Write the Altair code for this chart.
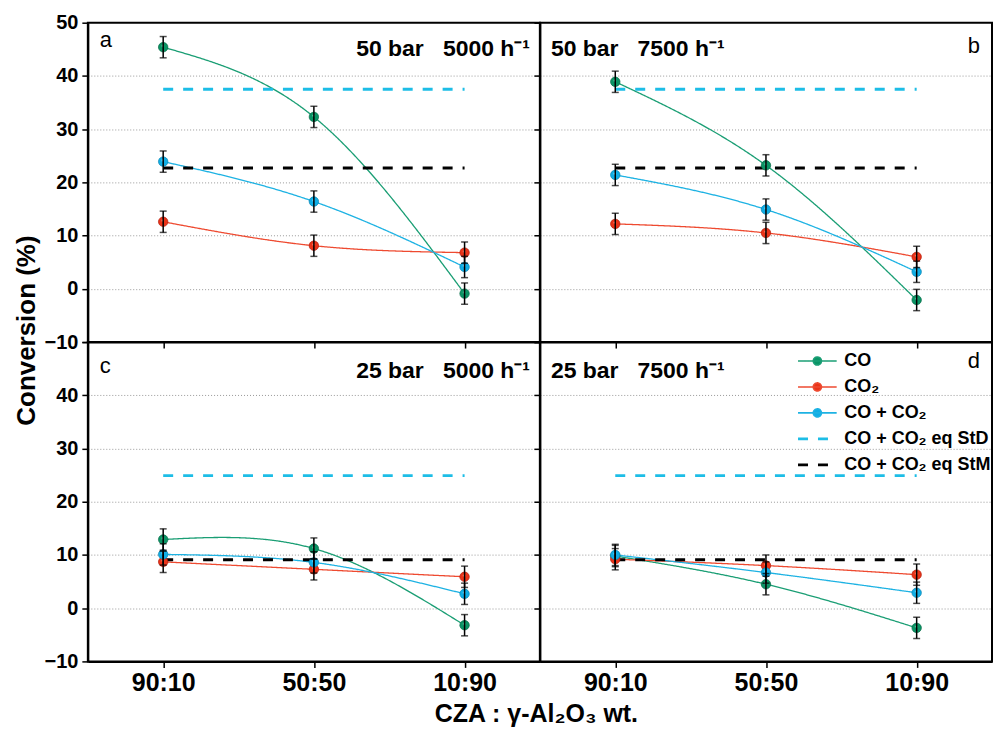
import altair as alt
import pandas as pd

# ---------------- data ----------------
ratios = ["90:10", "50:50", "10:90"]
panels = ["a", "b", "c", "d"]
NB = "\u00a0"
SUP = "h\u207b\u00b9"
conditions = ["50 bar" + NB * 3 + "5000 " + SUP, "50 bar" + NB * 3 + "7500 " + SUP,
              "25 bar" + NB * 3 + "5000 " + SUP, "25 bar" + NB * 3 + "7500 " + SUP]

S_CO = "CO"
S_CO2 = "CO\u2082"
S_SUM = "CO + CO\u2082"
S_STD = "CO + CO\u2082 eq StD"
S_STM = "CO + CO\u2082 eq StM"
series_order = [S_CO, S_CO2, S_SUM, S_STD, S_STM]
solid_series = [S_CO, S_CO2, S_SUM]
dashed_series = [S_STD, S_STM]

co_a = [45.4, 32.3, -0.9]
co_b = [38.9, 23.2, -2.1]
co_c = [12.9, 11.2, -3.2]
co_d = [9.8, 4.5, -3.7]

co2_a = [12.6, 8.1, 6.8]
co2_b = [12.2, 10.5, 6.0]
co2_c = [8.7, 7.3, 5.9]
co2_d = [9.2, 8.0, 6.3]

sum_a = [23.9, 16.4, 4.1]
sum_b = [21.4, 14.9, 3.2]
sum_c = [10.1, 8.6, 2.7]
sum_d = [10.0, 6.7, 2.9]

err_co = [2.0, 2.0, 2.0]
err_co2 = [2.0, 2.0, 2.0]
err_sum = [2.0, 2.0, 2.0]

eq_std = [37.5, 37.5, 24.9, 24.9]
eq_stm = [22.7, 22.7, 9.1, 9.1]

co_vals = {"a": co_a, "b": co_b, "c": co_c, "d": co_d}
co2_vals = {"a": co2_a, "b": co2_b, "c": co2_c, "d": co2_d}
sum_vals = {"a": sum_a, "b": sum_b, "c": sum_c, "d": sum_d}

rows = []
for i, p in enumerate(panels):
    for s, vals, errs in [(S_CO, co_vals[p], err_co), (S_CO2, co2_vals[p], err_co2),
                          (S_SUM, sum_vals[p], err_sum)]:
        for r, v, e in zip(ratios, vals, errs):
            rows.append({"panel": p, "series": s, "ratio": r, "value": v, "err": e})
    for r in ratios:
        rows.append({"panel": p, "series": S_STD, "ratio": r, "value": eq_std[i], "err": 0.0})
        rows.append({"panel": p, "series": S_STM, "ratio": r, "value": eq_stm[i], "err": 0.0})
df = pd.DataFrame(rows)

# ---------------- styles ----------------
FONT = "Liberation Sans"
line_colors = ["#1a9e74", "#ee4a30", "#1db2e3", "#1dbde6", "#000000"]
dashes = [[1, 0], [1, 0], [1, 0], [10, 10], [10, 10]]
dot_styles = {
    S_CO: ("#0a9465", "#8fe0bf", "#066a47"),
    S_CO2: ("#ea3318", "#ffb3a3", "#b31d0b"),
    S_SUM: ("#0faee6", "#b8eefe", "#0883b0"),
}
W, H = 453, 320
PW = W


def grad(base, light):
    return alt.RadialGradient(
        gradient="radial",
        stops=[alt.GradientStop(offset=0, color=light),
               alt.GradientStop(offset=0.3, color=base),
               alt.GradientStop(offset=1, color=base)],
        x1=0.42, y1=0.32, r1=0, x2=0.5, y2=0.5, r2=0.55,
    )


legend_circle = "M-1,0H1M0.21,0A0.21,0.21,0,1,1,-0.21,0A0.21,0.21,0,1,1,0.21,0Z"
fill_expr = ("datum.value === '%s' ? '%s' : datum.value === '%s' ? '%s' : "
             "datum.value === '%s' ? '%s' : 'transparent'"
             % (S_CO, dot_styles[S_CO][0], S_CO2, dot_styles[S_CO2][0], S_SUM, dot_styles[S_SUM][0]))
shape_expr = ("indexof(['%s','%s','%s'], datum.value) >= 0 ? '%s' : 'stroke'"
              % (S_CO, S_CO2, S_SUM, legend_circle))
swidth_expr = ("indexof(['%s','%s','%s'], datum.value) >= 0 ? 1.6 : 2.8"
               % (S_CO, S_CO2, S_SUM))


def make_legend():
    return alt.Legend(
        title=None, orient="none", legendX=269, legendY=10, padding=0,
        symbolType={"expr": shape_expr}, symbolFillColor={"expr": fill_expr},
        symbolSize=1500, symbolStrokeWidth={"expr": swidth_expr},
        labelFont=FONT, labelFontSize=18, labelFontWeight="bold", labelColor="black",
        labelOffset=18, labelLimit=300, rowPadding=8,
    )


def y_axis(show_labels, hide_top=False, title=None):
    lab = ("datum.value % 10 === 0 && datum.value < 50 ? datum.label : ''" if hide_top
           else "datum.value % 10 === 0 ? datum.label : ''")
    kw = dict(
        values=list(range(-10, 55, 5)),
        labels=show_labels,
        labelExpr=lab,
        labelFont=FONT, labelFontSize=20, labelFontWeight="bold", labelColor="black",
        labelPadding=4,
        ticks=True,
        tickSize={"condition": {"test": "datum.value % 10 === 0", "value": 6}, "value": 3},
        tickWidth=1.5, tickColor="black",
        grid=True, gridDash=[1, 2], gridColor="#999999", gridWidth=1,
        gridOpacity={"condition": {"test": "datum.value % 10 === 0 && datum.value > -10 && datum.value < 50",
                                   "value": 1}, "value": 0},
        domain=True, domainColor="black", domainWidth=2,
    )
    if title:
        kw.update(title=title, titleFont=FONT, titleFontSize=26, titleFontWeight="bold",
                  titleColor="black", titleAngle=270, titleBaseline="alphabetic",
                  titleX=-53, titleY=308, titleAlign="center")
    else:
        kw.update(title=None)
    return alt.Axis(**kw)


def x_axis(show_labels, title=None):
    kw = dict(
        labels=show_labels, labelAngle=0, labelAlign="center",
        labelFont=FONT, labelFontSize=25, labelFontWeight="bold", labelColor="black",
        labelPadding=3,
        ticks=True, tickSize=6, tickWidth=1.5, tickColor="black",
        grid=False, domain=True, domainColor="black", domainWidth=2,
    )
    if title:
        kw.update(title=title, titleFont=FONT, titleFontSize=25, titleFontWeight="bold",
                  titleColor="black", titleBaseline="alphabetic", titleX=W - 4, titleY=60,
                  titleAlign="center")
    else:
        kw.update(title=None)
    return alt.Axis(**kw)


ann_pos = {
    "a": ((12, 24, "left"), (PW - 10, 33, "right")),
    "b": ((PW - 12, 30, "right"), (11, 33, "left")),
    "c": ((12, 31, "left"), (PW - 10, 36, "right")),
    "d": ((PW - 12, 26, "right"), (11, 36, "left")),
}


def make_panel(p, idx, show_x, show_y, hide_top=False, ytitle=None, xtitle=None, legend=False):
    d = df[df.panel == p]
    xenc = alt.X("ratio:N", sort=ratios,
                 scale=alt.Scale(type="point", padding=0.5, domain=ratios),
                 axis=x_axis(show_x, xtitle))
    yenc = alt.Y("value:Q", scale=alt.Scale(domain=[-10, 50], nice=False, zero=False),
                 axis=y_axis(show_y, hide_top, ytitle))
    leg = make_legend() if legend else None
    cenc = alt.Color("series:N", scale=alt.Scale(domain=series_order, range=line_colors),
                     legend=leg)
    denc = alt.StrokeDash("series:N", scale=alt.Scale(domain=series_order, range=dashes),
                          legend=leg)

    solid = alt.Chart(d[d.series.isin(solid_series)]).mark_line(
        interpolate="natural", strokeWidth=1.3).encode(
        x=xenc, y=yenc, color=cenc, strokeDash=denc, detail="series:N")
    dashed = alt.Chart(d[d.series.isin(dashed_series)]).mark_line(
        strokeWidth=2.8).encode(
        x=alt.X("ratio:N", sort=ratios), y="value:Q",
        color=alt.Color("series:N"),
        strokeDash=alt.StrokeDash("series:N"), detail="series:N")
    layers = [solid, dashed]
    for s in solid_series:
        base, light, rim = dot_styles[s]
        pts = alt.Chart(d[d.series == s]).mark_circle(
            fill=grad(base, light), stroke=rim, strokeWidth=0.7, size=90, opacity=1
        ).encode(x=alt.X("ratio:N", sort=ratios), y="value:Q")
        layers.append(pts)
    dd = d[d.series.isin(solid_series)]
    eb = alt.Chart(dd).transform_calculate(
        lo="datum.value - datum.err", hi="datum.value + datum.err")
    layers.append(eb.mark_rule(color="black", strokeWidth=1.5).encode(
        x=alt.X("ratio:N", sort=ratios), y="lo:Q", y2="hi:Q"))
    layers.append(eb.mark_tick(color="black", size=7, thickness=1.5).encode(
        x=alt.X("ratio:N", sort=ratios), y="lo:Q"))
    layers.append(eb.mark_tick(color="black", size=7, thickness=1.5).encode(
        x=alt.X("ratio:N", sort=ratios), y="hi:Q"))

    (lx, ly, la), (cx, cy, ca) = ann_pos[p]
    ann = pd.DataFrame({"letter": [p], "cond": [conditions[idx]]})
    layers.append(alt.Chart(ann).mark_text(
        font=FONT, fontSize=22, fontWeight="normal", color="black",
        align=la, baseline="alphabetic").encode(
        x=alt.value(lx), y=alt.value(ly), text="letter:N"))
    layers.append(alt.Chart(ann).mark_text(
        font=FONT, fontSize=23, fontWeight="bold", color="black",
        align=ca, baseline="alphabetic").encode(
        x=alt.value(cx), y=alt.value(cy), text="cond:N"))

    return alt.layer(*layers).properties(width=W, height=H)


pa = make_panel("a", 0, False, True, ytitle="Conversion (%)")
pb = make_panel("b", 1, False, False)
pc = make_panel("c", 2, True, True, hide_top=True, xtitle="CZA : \u03b3-Al\u2082O\u2083 wt.")
pd_ = make_panel("d", 3, True, False, legend=True)

res = dict(color="independent", strokeDash="independent")
chart = alt.concat(pa, pb, pc, pd_, columns=2, spacing=0, bounds="flush").resolve_scale(
    **res
).configure_view(
    stroke="black", strokeWidth=2
).properties(padding={"left": 5, "top": 3, "right": 0, "bottom": 0})

chart.save("out.html", embed_options={"renderer": "svg", "actions": False})
